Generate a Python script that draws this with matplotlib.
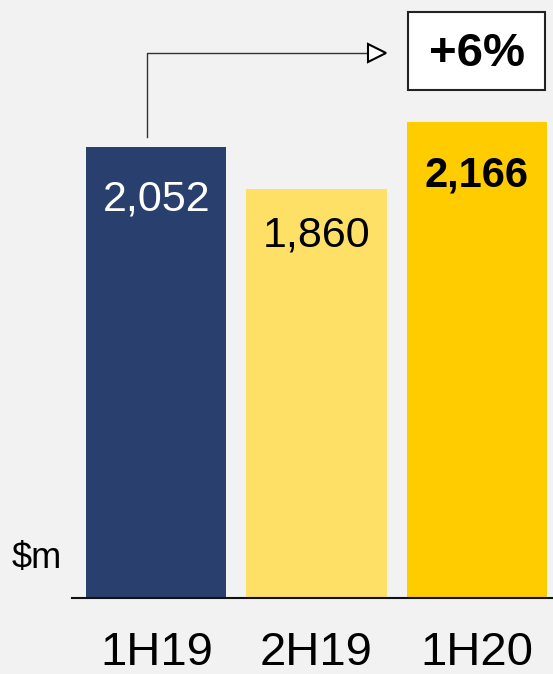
import matplotlib.pyplot as plt
from matplotlib.patches import Rectangle

plt.rcParams['font.family'] = ['Liberation Sans', 'DejaVu Sans']

periods = ['1H19', '2H19', '1H20']
revenue = [2052, 1860, 2166]
labels = ['2,052', '1,860', '2,166']
growth = '+6%'
unit = '$m'

bar_colors = ['#293f6e', '#fee066', '#ffcc00']
label_colors = ['white', 'black', 'black']
label_weights = ['normal', 'normal', 'bold']
label_sizes = [31, 31, 30]
label_drop = [237, 212, 242]  # how far below the bar top the label sits
bg = '#f2f2f2'

fig = plt.figure(figsize=(5.53, 6.74), dpi=100, facecolor=bg)
ax = fig.add_axes([72 / 553, 76 / 674, 481 / 553, 598 / 674])
ax.set_facecolor(bg)

x = list(range(len(periods)))
ax.bar(x, revenue, width=0.875, color=bar_colors, zorder=2)
ax.set_xlim(-0.528, 2.478)
ax.set_ylim(0, 2721)

for xi, v, lab, c, w, fs, d in zip(x, revenue, labels, label_colors,
                                   label_weights, label_sizes, label_drop):
    ax.text(xi, v - d, lab, ha='center', va='center', fontsize=fs,
            color=c, fontweight=w)

# growth arrow from first bar to the last
x0 = x[0] - 0.06
y_low = revenue[0] + 45
y_high = 2480
ax.plot([x0, x0, x[2] - 0.68], [y_low, y_high, y_high], color='#333333', lw=1.0)
ax.plot(x[2] - 0.62, y_high, marker='>', markersize=13, markerfacecolor='white',
        markeredgecolor='black', markeredgewidth=1.5, clip_on=False)

ax.add_patch(Rectangle((x[2] - 0.43, 2311), 0.86, 355, facecolor='white',
                       edgecolor='#222222', lw=1.5, clip_on=False, zorder=3))
ax.text(x[2], 2475, growth, ha='center', va='center', fontsize=34,
        fontweight='bold', zorder=4)

ax.set_xticks(x)
ax.set_xticklabels(periods, fontsize=34)
ax.tick_params(axis='x', length=0, pad=24)
ax.set_yticks([])
for s in ['top', 'right', 'left']:
    ax.spines[s].set_visible(False)
ax.spines['bottom'].set_linewidth(1.5)
ax.spines['bottom'].set_color('#111111')

fig.text(12 / 553, 1 - 558 / 674, unit, ha='left', va='center', fontsize=26)

fig.savefig('out.png', dpi=100, facecolor=bg)
